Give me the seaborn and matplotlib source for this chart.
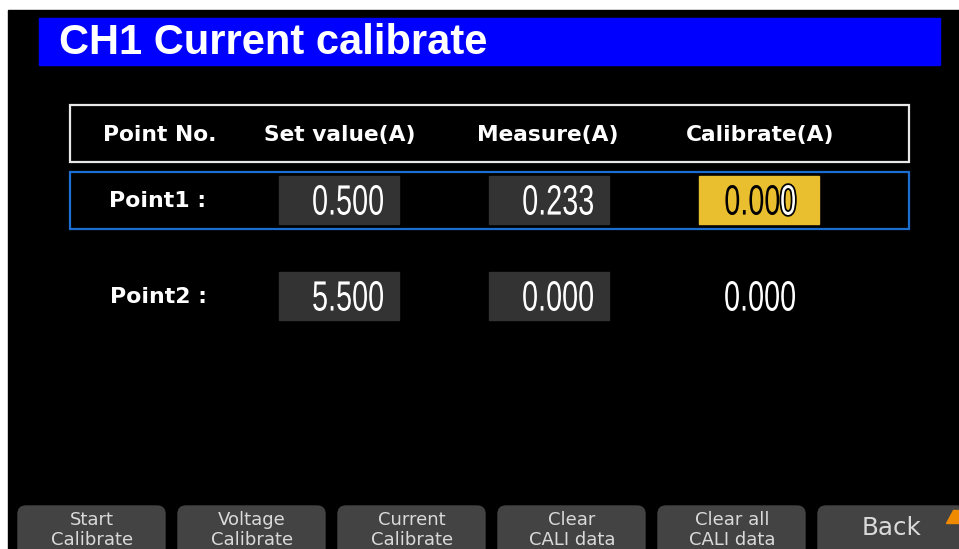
import matplotlib
matplotlib.use("Agg")
import matplotlib.pyplot as plt
import matplotlib.patheffects as pe
from matplotlib.patches import Rectangle, FancyBboxPatch, Polygon, PathPatch
from matplotlib.textpath import TextPath
from matplotlib.font_manager import FontProperties
from matplotlib.transforms import Affine2D
import seaborn as sns

sns.set_style("dark")
plt.rcParams['font.family'] = ['DejaVu Sans']

# screen content
title = "CH1 Current calibrate"
headers = ["Point No.", "Set value(A)", "Measure(A)", "Calibrate(A)"]
points = ["Point1 :", "Point2 :"]
set_values = [0.500, 5.500]
measure_values = [0.233, 0.000]
calibrate_values = [0.000, 0.000]
buttons = ["Start\nCalibrate", "Voltage\nCalibrate", "Current\nCalibrate",
           "Clear\nCALI data", "Clear all\nCALI data", "Back"]

# layout (pixels)
W, H = 959, 549
col_x = [160, 340, 548, 760]
box_left = [279, 489, 699]
box_w, box_h = 120, 48
row_y = [200, 296]
BG_BOX = "#333333"
YELLOW = "#E9BF2F"
BLUE_LINE = "#1C6FD0"
NUM_PROP = FontProperties(family="Liberation Sans")

fig = plt.figure(figsize=(W / 100, H / 100), dpi=100)
fig.patch.set_facecolor("white")
ax = fig.add_axes([0, 0, 1, 1])
ax.set_xlim(0, W)
ax.set_ylim(H, 0)
ax.axis("off")


def fmt(v):
    return "%.3f" % v


def narrow_text(s, x_right, y_mid, color, digit_h=30, sx=0.68, stroke=None, z=3):
    """Condensed digits like the instrument's font, drawn as a path."""
    tp = TextPath((0, 0), s, size=100, prop=NUM_PROP)
    ref = TextPath((0, 0), "0", size=100, prop=NUM_PROP).get_extents()
    k = digit_h / ref.height
    ext = tp.get_extents()
    tr = (Affine2D().translate(-ext.x1, -(ref.y0 + ref.y1) / 2)
          .scale(k * sx, -k).translate(x_right, y_mid) + ax.transData)
    p = PathPatch(tp, transform=tr, color=color, lw=0, zorder=z)
    if stroke:
        p.set_path_effects([pe.withStroke(linewidth=2.5, foreground=stroke)])
    ax.add_patch(p)
    return ext.width * k * sx


# screen
ax.add_patch(Rectangle((8, 10), W - 8, H - 10, color="black", zorder=0))

# title bar
ax.add_patch(Rectangle((39, 18), 901, 47, color="#0000FF", zorder=1))
ax.text(59, 43, title, color="white", fontsize=30, fontweight="bold",
        family="Liberation Sans", va="center", ha="left", zorder=2)

# header box
ax.add_patch(Rectangle((70, 105), 839, 57, fill=False, ec="#E8E8E8", lw=1.6, zorder=2))
for x, h in zip(col_x, headers):
    ax.text(x, 135, h, color="white", fontsize=15.7, fontweight="bold",
            ha="center", va="center", zorder=3)

# selected row frame
ax.add_patch(Rectangle((70, 172), 839, 57, fill=False, ec=BLUE_LINE, lw=1.6, zorder=2))

for i, y in enumerate(row_y):
    ax.text(158, y + 1, points[i], color="white", fontsize=15.8, fontweight="bold",
            ha="center", va="center", zorder=3)
    # set value and measure boxes
    for j, v in enumerate([set_values[i], measure_values[i]]):
        ax.add_patch(Rectangle((box_left[j], y - box_h / 2), box_w, box_h,
                               color=BG_BOX, zorder=2))
        narrow_text(fmt(v), box_left[j] + box_w - 16, y, "white")
    # calibrate column
    cal = fmt(calibrate_values[i])
    if i == 0:
        ax.add_patch(Rectangle((box_left[2], y - box_h / 2), box_w, box_h,
                               color=YELLOW, zorder=2))
        wlast = narrow_text(cal[-1], 795, y, "white", stroke="black", z=4)
        narrow_text(cal[:-1], 795 - wlast - 2, y, "black")
    else:
        narrow_text(cal, 795, y, "white")

# soft keys
for k, lab in enumerate(buttons):
    x0 = 18 + 160 * k
    ax.add_patch(FancyBboxPatch((x0 + 8, 506 + 8), 147 - 16, 60,
                                boxstyle="round,pad=8", color="#434343", zorder=2))
    if "\n" in lab:
        top, bottom = lab.split("\n")
        ax.text(x0 + 74, 520, top, color="#DADADA", fontsize=13,
                ha="center", va="center", zorder=3)
        ax.text(x0 + 74, 540, bottom, color="#DADADA", fontsize=13,
                ha="center", va="center", zorder=3)
    else:
        ax.text(x0 + 74, 528, lab, color="#DADADA", fontsize=17.7,
                ha="center", va="center", zorder=3)

ax.add_patch(Polygon([[946, 523], [959, 523], [959, 510], [953, 510]],
                     closed=True, color="#F08A00", zorder=4))

fig.savefig("out.png", dpi=100, facecolor=fig.get_facecolor())
